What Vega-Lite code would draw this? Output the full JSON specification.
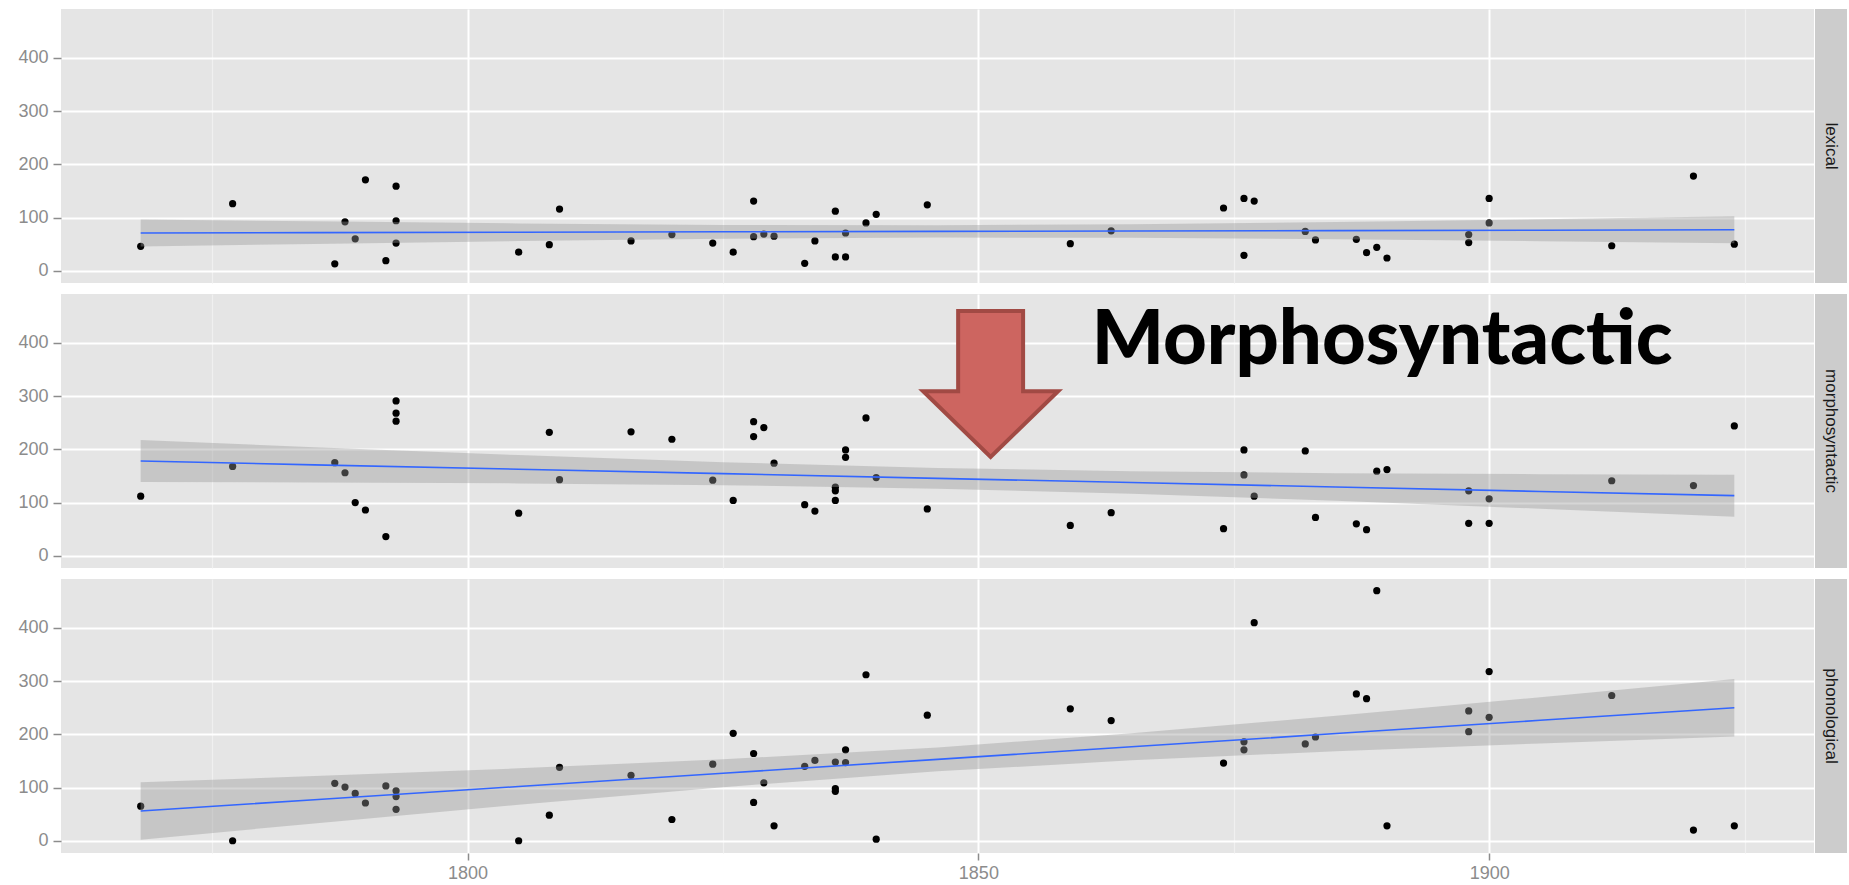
{
  "$schema": "https://vega.github.io/schema/vega-lite/v6.json",
  "padding": {"left": 17, "top": 9, "right": 0, "bottom": 0},
  "background": "white",
  "config": {
    "font": "Liberation Sans",
    "view": {"stroke": null},
    "axis": {"domain": false, "title": null, "labelFont": "Liberation Sans", "labelFontSize": 18, "labelColor": "#8C8C8C", "tickColor": "#8C8C8C", "tickWidth": 1.5, "labelOverlap": false, "labelFlush": false}
  },
  "datasets": {
    "points": [
      {"panel":"lexical","year":1768,"value":46},{"panel":"lexical","year":1777,"value":126},{"panel":"lexical","year":1787,"value":13},{"panel":"lexical","year":1788,"value":92},{"panel":"lexical","year":1789,"value":60},{"panel":"lexical","year":1790,"value":171},{"panel":"lexical","year":1792,"value":19},{"panel":"lexical","year":1793,"value":159},{"panel":"lexical","year":1793,"value":94},{"panel":"lexical","year":1793,"value":52},{"panel":"lexical","year":1805,"value":35},{"panel":"lexical","year":1808,"value":49},{"panel":"lexical","year":1809,"value":116},{"panel":"lexical","year":1816,"value":56},{"panel":"lexical","year":1820,"value":68},{"panel":"lexical","year":1824,"value":52},{"panel":"lexical","year":1826,"value":35},{"panel":"lexical","year":1828,"value":131},{"panel":"lexical","year":1828,"value":64},{"panel":"lexical","year":1829,"value":69},{"panel":"lexical","year":1830,"value":65},{"panel":"lexical","year":1833,"value":14},{"panel":"lexical","year":1834,"value":56},{"panel":"lexical","year":1836,"value":112},{"panel":"lexical","year":1836,"value":26},{"panel":"lexical","year":1837,"value":26},{"panel":"lexical","year":1837,"value":71},{"panel":"lexical","year":1839,"value":90},{"panel":"lexical","year":1840,"value":106},{"panel":"lexical","year":1845,"value":124},{"panel":"lexical","year":1859,"value":51},{"panel":"lexical","year":1863,"value":75},{"panel":"lexical","year":1874,"value":118},{"panel":"lexical","year":1876,"value":136},{"panel":"lexical","year":1876,"value":29},{"panel":"lexical","year":1877,"value":131},{"panel":"lexical","year":1882,"value":74},{"panel":"lexical","year":1883,"value":58},{"panel":"lexical","year":1887,"value":59},{"panel":"lexical","year":1888,"value":34},{"panel":"lexical","year":1889,"value":44},{"panel":"lexical","year":1890,"value":24},{"panel":"lexical","year":1898,"value":68},{"panel":"lexical","year":1898,"value":53},{"panel":"lexical","year":1900,"value":136},{"panel":"lexical","year":1900,"value":90},{"panel":"lexical","year":1912,"value":47},{"panel":"lexical","year":1920,"value":178},{"panel":"lexical","year":1924,"value":50},
      {"panel":"morphosyntactic","year":1768,"value":112},{"panel":"morphosyntactic","year":1777,"value":168},{"panel":"morphosyntactic","year":1787,"value":175},{"panel":"morphosyntactic","year":1788,"value":156},{"panel":"morphosyntactic","year":1789,"value":100},{"panel":"morphosyntactic","year":1790,"value":86},{"panel":"morphosyntactic","year":1792,"value":36},{"panel":"morphosyntactic","year":1793,"value":291},{"panel":"morphosyntactic","year":1793,"value":268},{"panel":"morphosyntactic","year":1793,"value":253},{"panel":"morphosyntactic","year":1805,"value":80},{"panel":"morphosyntactic","year":1808,"value":232},{"panel":"morphosyntactic","year":1809,"value":143},{"panel":"morphosyntactic","year":1816,"value":233},{"panel":"morphosyntactic","year":1820,"value":219},{"panel":"morphosyntactic","year":1824,"value":142},{"panel":"morphosyntactic","year":1826,"value":104},{"panel":"morphosyntactic","year":1828,"value":252},{"panel":"morphosyntactic","year":1828,"value":224},{"panel":"morphosyntactic","year":1829,"value":241},{"panel":"morphosyntactic","year":1830,"value":174},{"panel":"morphosyntactic","year":1833,"value":96},{"panel":"morphosyntactic","year":1834,"value":84},{"panel":"morphosyntactic","year":1836,"value":104},{"panel":"morphosyntactic","year":1836,"value":129},{"panel":"morphosyntactic","year":1836,"value":122},{"panel":"morphosyntactic","year":1837,"value":199},{"panel":"morphosyntactic","year":1837,"value":185},{"panel":"morphosyntactic","year":1839,"value":259},{"panel":"morphosyntactic","year":1840,"value":147},{"panel":"morphosyntactic","year":1845,"value":88},{"panel":"morphosyntactic","year":1859,"value":57},{"panel":"morphosyntactic","year":1863,"value":81},{"panel":"morphosyntactic","year":1874,"value":51},{"panel":"morphosyntactic","year":1876,"value":199},{"panel":"morphosyntactic","year":1876,"value":152},{"panel":"morphosyntactic","year":1877,"value":112},{"panel":"morphosyntactic","year":1882,"value":197},{"panel":"morphosyntactic","year":1883,"value":72},{"panel":"morphosyntactic","year":1887,"value":60},{"panel":"morphosyntactic","year":1888,"value":49},{"panel":"morphosyntactic","year":1889,"value":159},{"panel":"morphosyntactic","year":1890,"value":162},{"panel":"morphosyntactic","year":1898,"value":122},{"panel":"morphosyntactic","year":1898,"value":61},{"panel":"morphosyntactic","year":1900,"value":107},{"panel":"morphosyntactic","year":1900,"value":61},{"panel":"morphosyntactic","year":1912,"value":141},{"panel":"morphosyntactic","year":1920,"value":132},{"panel":"morphosyntactic","year":1924,"value":244},
      {"panel":"phonological","year":1768,"value":65},{"panel":"phonological","year":1777,"value":0},{"panel":"phonological","year":1787,"value":108},{"panel":"phonological","year":1788,"value":101},{"panel":"phonological","year":1789,"value":89},{"panel":"phonological","year":1790,"value":71},{"panel":"phonological","year":1792,"value":103},{"panel":"phonological","year":1793,"value":94},{"panel":"phonological","year":1793,"value":83},{"panel":"phonological","year":1793,"value":59},{"panel":"phonological","year":1805,"value":0},{"panel":"phonological","year":1808,"value":48},{"panel":"phonological","year":1809,"value":138},{"panel":"phonological","year":1816,"value":123},{"panel":"phonological","year":1820,"value":40},{"panel":"phonological","year":1824,"value":144},{"panel":"phonological","year":1826,"value":202},{"panel":"phonological","year":1828,"value":164},{"panel":"phonological","year":1828,"value":72},{"panel":"phonological","year":1829,"value":109},{"panel":"phonological","year":1830,"value":28},{"panel":"phonological","year":1833,"value":140},{"panel":"phonological","year":1834,"value":151},{"panel":"phonological","year":1836,"value":148},{"panel":"phonological","year":1836,"value":98},{"panel":"phonological","year":1836,"value":93},{"panel":"phonological","year":1837,"value":171},{"panel":"phonological","year":1837,"value":147},{"panel":"phonological","year":1839,"value":312},{"panel":"phonological","year":1840,"value":3},{"panel":"phonological","year":1845,"value":236},{"panel":"phonological","year":1859,"value":248},{"panel":"phonological","year":1863,"value":226},{"panel":"phonological","year":1874,"value":146},{"panel":"phonological","year":1876,"value":186},{"panel":"phonological","year":1876,"value":171},{"panel":"phonological","year":1877,"value":410},{"panel":"phonological","year":1882,"value":182},{"panel":"phonological","year":1883,"value":195},{"panel":"phonological","year":1887,"value":276},{"panel":"phonological","year":1888,"value":267},{"panel":"phonological","year":1889,"value":470},{"panel":"phonological","year":1890,"value":28},{"panel":"phonological","year":1898,"value":244},{"panel":"phonological","year":1898,"value":205},{"panel":"phonological","year":1900,"value":318},{"panel":"phonological","year":1900,"value":232},{"panel":"phonological","year":1912,"value":273},{"panel":"phonological","year":1920,"value":20},{"panel":"phonological","year":1924,"value":28}
    ],
    "fits": [
      {"panel":"lexical","year":1768,"fit":71.0,"lo":45.5,"hi":96.5},{"panel":"lexical","year":1785,"fit":71.65,"lo":50.5,"hi":92.9},{"panel":"lexical","year":1805,"fit":72.4,"lo":55.8,"hi":89.0},{"panel":"lexical","year":1825,"fit":73.2,"lo":60.2,"hi":86.2},{"panel":"lexical","year":1846,"fit":74.0,"lo":62.5,"hi":85.5},{"panel":"lexical","year":1865,"fit":74.7,"lo":61.9,"hi":87.5},{"panel":"lexical","year":1885,"fit":75.5,"lo":59.3,"hi":91.7},{"panel":"lexical","year":1905,"fit":76.2,"lo":55.5,"hi":96.9},{"panel":"lexical","year":1924,"fit":77.0,"lo":51.5,"hi":102.5},
      {"panel":"morphosyntactic","year":1768,"fit":178.0,"lo":138.5,"hi":217.5},{"panel":"morphosyntactic","year":1785,"fit":170.9,"lo":137.7,"hi":204.1},{"panel":"morphosyntactic","year":1805,"fit":162.6,"lo":136.0,"hi":189.2},{"panel":"morphosyntactic","year":1825,"fit":154.3,"lo":132.7,"hi":175.9},{"panel":"morphosyntactic","year":1846,"fit":145.5,"lo":126.0,"hi":165.0},{"panel":"morphosyntactic","year":1865,"fit":137.6,"lo":116.4,"hi":158.8},{"panel":"morphosyntactic","year":1885,"fit":129.3,"lo":103.3,"hi":155.3},{"panel":"morphosyntactic","year":1905,"fit":120.9,"lo":88.4,"hi":153.4},{"panel":"morphosyntactic","year":1924,"fit":113.0,"lo":73.5,"hi":152.5},
      {"panel":"phonological","year":1768,"fit":56.0,"lo":2.0,"hi":110.0},{"panel":"phonological","year":1785,"fit":77.1,"lo":32.6,"hi":121.6},{"panel":"phonological","year":1805,"fit":102.0,"lo":67.8,"hi":136.2},{"panel":"phonological","year":1825,"fit":126.9,"lo":100.8,"hi":153.0},{"panel":"phonological","year":1846,"fit":153.0,"lo":130.5,"hi":175.5},{"panel":"phonological","year":1865,"fit":176.6,"lo":151.1,"hi":202.1},{"panel":"phonological","year":1885,"fit":201.5,"lo":168.2,"hi":234.8},{"panel":"phonological","year":1905,"fit":226.4,"lo":183.0,"hi":269.8},{"panel":"phonological","year":1924,"fit":250.0,"lo":196.0,"hi":304.0}
    ]
  },
  "spacing": 11,
  "vconcat": [
    {
      "spacing": 1,
      "hconcat": [
        {
          "width": 1753, "height": 274,
          "view": {"fill": "#E5E5E5", "stroke": null},
          "layer": [
            {
              "data": {"name": "points"},
              "transform": [{"filter": "datum.panel === 'lexical'"}],
              "mark": {"type": "point", "filled": true, "size": 52, "color": "#000000", "opacity": 1, "strokeWidth": 0},
              "encoding": {
                "x": {"field": "year", "type": "quantitative", "scale": {"domain": [1760.2, 1931.8], "nice": false, "zero": false},
                  "axis": {"values": [1775,1800,1825,1850,1875,1900,1925], "labels": false, "ticks": false,
                    "gridColor": {"condition": {"test": "datum.value % 50 === 0", "value": "#FFFFFF"}, "value": "#F0F0F0"},
                    "gridWidth": {"condition": {"test": "datum.value % 50 === 0", "value": 2}, "value": 1.2}}},
                "y": {"field": "value", "type": "quantitative", "scale": {"domain": [-23, 492], "nice": false, "zero": false},
                  "axis": {"values": [0,50,100,150,200,250,300,350,400,450], "format": "d", "tickSize": 8, "labelPadding": 5,
                    "labelExpr": "datum.value % 100 === 0 ? datum.label : ''",
                    "tickOpacity": {"condition": {"test": "datum.value % 100 === 0", "value": 1}, "value": 0},
                    "gridColor": {"condition": {"test": "datum.value % 100 === 0", "value": "#FFFFFF"}, "value": "#F0F0F0"},
                    "gridWidth": {"condition": {"test": "datum.value % 100 === 0", "value": 2}, "value": 1.2}}}
              }
            },
            {
              "data": {"name": "fits"},
              "transform": [{"filter": "datum.panel === 'lexical'"}],
              "mark": {"type": "area", "color": "#999999", "opacity": 0.4},
              "encoding": {
                "x": {"field": "year", "type": "quantitative", "scale": {"domain": [1760.2, 1931.8], "nice": false, "zero": false}},
                "y": {"field": "lo", "type": "quantitative", "scale": {"domain": [-23, 492], "nice": false, "zero": false}},
                "y2": {"field": "hi"}
              }
            },
            {
              "data": {"name": "fits"},
              "transform": [{"filter": "datum.panel === 'lexical'"}],
              "mark": {"type": "line", "color": "#3366FF", "strokeWidth": 1.6},
              "encoding": {
                "x": {"field": "year", "type": "quantitative", "scale": {"domain": [1760.2, 1931.8], "nice": false, "zero": false}},
                "y": {"field": "fit", "type": "quantitative", "scale": {"domain": [-23, 492], "nice": false, "zero": false}}
              }
            }
          ]
        },
        {
          "width": 32, "height": 274,
          "view": {"fill": "#CCCCCC", "stroke": null},
          "data": {"values": [{"label": "lexical"}]},
          "mark": {"type": "text", "angle": 90, "fontSize": 17, "color": "#1A1A1A", "font": "Liberation Sans", "align": "center", "baseline": "middle"},
          "encoding": {"text": {"field": "label"}}
        }
      ]
    },
    {
      "spacing": 1,
      "hconcat": [
        {
          "width": 1753, "height": 274,
          "view": {"fill": "#E5E5E5", "stroke": null},
          "layer": [
            {
              "data": {"name": "points"},
              "transform": [{"filter": "datum.panel === 'morphosyntactic'"}],
              "mark": {"type": "point", "filled": true, "size": 52, "color": "#000000", "opacity": 1, "strokeWidth": 0},
              "encoding": {
                "x": {"field": "year", "type": "quantitative", "scale": {"domain": [1760.2, 1931.8], "nice": false, "zero": false},
                  "axis": {"values": [1775,1800,1825,1850,1875,1900,1925], "labels": false, "ticks": false,
                    "gridColor": {"condition": {"test": "datum.value % 50 === 0", "value": "#FFFFFF"}, "value": "#F0F0F0"},
                    "gridWidth": {"condition": {"test": "datum.value % 50 === 0", "value": 2}, "value": 1.2}}},
                "y": {"field": "value", "type": "quantitative", "scale": {"domain": [-23, 492], "nice": false, "zero": false},
                  "axis": {"values": [0,50,100,150,200,250,300,350,400,450], "format": "d", "tickSize": 8, "labelPadding": 5,
                    "labelExpr": "datum.value % 100 === 0 ? datum.label : ''",
                    "tickOpacity": {"condition": {"test": "datum.value % 100 === 0", "value": 1}, "value": 0},
                    "gridColor": {"condition": {"test": "datum.value % 100 === 0", "value": "#FFFFFF"}, "value": "#F0F0F0"},
                    "gridWidth": {"condition": {"test": "datum.value % 100 === 0", "value": 2}, "value": 1.2}}}
              }
            },
            {
              "data": {"name": "fits"},
              "transform": [{"filter": "datum.panel === 'morphosyntactic'"}],
              "mark": {"type": "area", "color": "#999999", "opacity": 0.4},
              "encoding": {
                "x": {"field": "year", "type": "quantitative", "scale": {"domain": [1760.2, 1931.8], "nice": false, "zero": false}},
                "y": {"field": "lo", "type": "quantitative", "scale": {"domain": [-23, 492], "nice": false, "zero": false}},
                "y2": {"field": "hi"}
              }
            },
            {
              "data": {"name": "fits"},
              "transform": [{"filter": "datum.panel === 'morphosyntactic'"}],
              "mark": {"type": "line", "color": "#3366FF", "strokeWidth": 1.6},
              "encoding": {
                "x": {"field": "year", "type": "quantitative", "scale": {"domain": [1760.2, 1931.8], "nice": false, "zero": false}},
                "y": {"field": "fit", "type": "quantitative", "scale": {"domain": [-23, 492], "nice": false, "zero": false}}
              }
            },
            {
              "data": {"values": [{"year": 1851.2, "value": 323}]},
              "mark": {"type": "point", "shape": "M -0.445 -1 L 0.445 -1 L 0.445 0.1 L 0.925 0.1 L 0 1 L -0.925 0.1 L -0.445 0.1 Z", "filled": true, "fill": "#CD6560", "stroke": "#A14A44", "strokeWidth": 4, "size": 21300, "opacity": 1, "fillOpacity": 1, "strokeOpacity": 1, "strokeJoin": "miter"},
              "encoding": {
                "x": {"field": "year", "type": "quantitative", "scale": {"domain": [1760.2, 1931.8], "nice": false, "zero": false}},
                "y": {"field": "value", "type": "quantitative", "scale": {"domain": [-23, 492], "nice": false, "zero": false}}
              }
            },
            {
              "data": {"values": [{"year": 1861.1, "value": 360, "label": "Morphosyntactic"}]},
              "mark": {"type": "text", "align": "left", "baseline": "alphabetic", "font": "Lato", "fontWeight": 900, "fontSize": 76, "color": "#000000"},
              "encoding": {
                "x": {"field": "year", "type": "quantitative", "scale": {"domain": [1760.2, 1931.8], "nice": false, "zero": false}},
                "y": {"field": "value", "type": "quantitative", "scale": {"domain": [-23, 492], "nice": false, "zero": false}},
                "text": {"field": "label"}
              }
            }
          ]
        },
        {
          "width": 32, "height": 274,
          "view": {"fill": "#CCCCCC", "stroke": null},
          "data": {"values": [{"label": "morphosyntactic"}]},
          "mark": {"type": "text", "angle": 90, "fontSize": 17, "color": "#1A1A1A", "font": "Liberation Sans", "align": "center", "baseline": "middle"},
          "encoding": {"text": {"field": "label"}}
        }
      ]
    },
    {
      "spacing": 1,
      "hconcat": [
        {
          "width": 1753, "height": 274,
          "view": {"fill": "#E5E5E5", "stroke": null},
          "layer": [
            {
              "data": {"name": "points"},
              "transform": [{"filter": "datum.panel === 'phonological'"}],
              "mark": {"type": "point", "filled": true, "size": 52, "color": "#000000", "opacity": 1, "strokeWidth": 0},
              "encoding": {
                "x": {"field": "year", "type": "quantitative", "scale": {"domain": [1760.2, 1931.8], "nice": false, "zero": false},
                  "axis": {"values": [1775,1800,1825,1850,1875,1900,1925], "format": "d", "tickSize": 7, "labelPadding": 4,
                    "labelExpr": "datum.value % 50 === 0 ? datum.label : ''",
                    "tickOpacity": {"condition": {"test": "datum.value % 50 === 0", "value": 1}, "value": 0},
                    "gridColor": {"condition": {"test": "datum.value % 50 === 0", "value": "#FFFFFF"}, "value": "#F0F0F0"},
                    "gridWidth": {"condition": {"test": "datum.value % 50 === 0", "value": 2}, "value": 1.2}}},
                "y": {"field": "value", "type": "quantitative", "scale": {"domain": [-23, 492], "nice": false, "zero": false},
                  "axis": {"values": [0,50,100,150,200,250,300,350,400,450], "format": "d", "tickSize": 8, "labelPadding": 5,
                    "labelExpr": "datum.value % 100 === 0 ? datum.label : ''",
                    "tickOpacity": {"condition": {"test": "datum.value % 100 === 0", "value": 1}, "value": 0},
                    "gridColor": {"condition": {"test": "datum.value % 100 === 0", "value": "#FFFFFF"}, "value": "#F0F0F0"},
                    "gridWidth": {"condition": {"test": "datum.value % 100 === 0", "value": 2}, "value": 1.2}}}
              }
            },
            {
              "data": {"name": "fits"},
              "transform": [{"filter": "datum.panel === 'phonological'"}],
              "mark": {"type": "area", "color": "#999999", "opacity": 0.4},
              "encoding": {
                "x": {"field": "year", "type": "quantitative", "scale": {"domain": [1760.2, 1931.8], "nice": false, "zero": false}},
                "y": {"field": "lo", "type": "quantitative", "scale": {"domain": [-23, 492], "nice": false, "zero": false}},
                "y2": {"field": "hi"}
              }
            },
            {
              "data": {"name": "fits"},
              "transform": [{"filter": "datum.panel === 'phonological'"}],
              "mark": {"type": "line", "color": "#3366FF", "strokeWidth": 1.6},
              "encoding": {
                "x": {"field": "year", "type": "quantitative", "scale": {"domain": [1760.2, 1931.8], "nice": false, "zero": false}},
                "y": {"field": "fit", "type": "quantitative", "scale": {"domain": [-23, 492], "nice": false, "zero": false}}
              }
            }
          ]
        },
        {
          "width": 32, "height": 274,
          "view": {"fill": "#CCCCCC", "stroke": null},
          "data": {"values": [{"label": "phonological"}]},
          "mark": {"type": "text", "angle": 90, "fontSize": 17, "color": "#1A1A1A", "font": "Liberation Sans", "align": "center", "baseline": "middle"},
          "encoding": {"text": {"field": "label"}}
        }
      ]
    }
  ]
}
